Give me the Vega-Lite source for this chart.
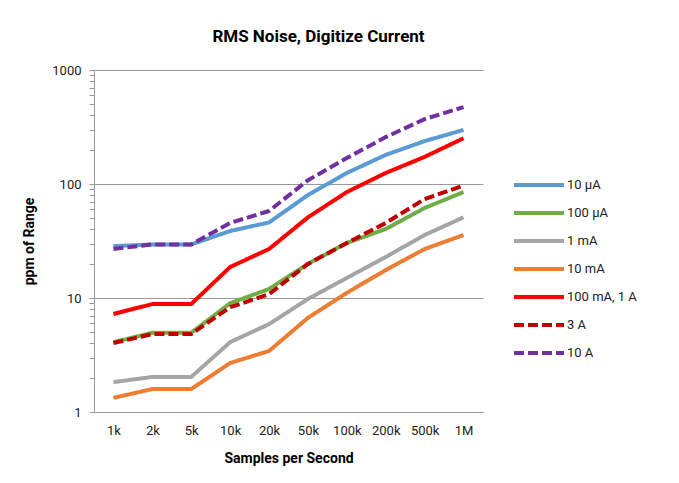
{
  "$schema": "https://vega.github.io/schema/vega-lite/v6.json",
  "autosize": {"type": "none"},
  "padding": {"left": 94, "top": 70, "right": 196, "bottom": 71},
  "width": 389,
  "height": 342,
  "background": "white",
  "config": {
    "font": "Roboto",
    "view": {"stroke": null}
  },
  "title": {
    "text": "RMS Noise, Digitize Current",
    "fontSize": 17,
    "fontWeight": "bold",
    "color": "#000000",
    "anchor": "middle",
    "dx": 30,
    "offset": 18
  },
  "data": {
    "values": [
      {"sps": "1k", "series": "10 µA", "v": 28.5},
      {"sps": "2k", "series": "10 µA", "v": 29.5},
      {"sps": "5k", "series": "10 µA", "v": 29.5},
      {"sps": "10k", "series": "10 µA", "v": 38.7},
      {"sps": "20k", "series": "10 µA", "v": 46},
      {"sps": "50k", "series": "10 µA", "v": 80},
      {"sps": "100k", "series": "10 µA", "v": 125},
      {"sps": "200k", "series": "10 µA", "v": 180},
      {"sps": "500k", "series": "10 µA", "v": 238},
      {"sps": "1M", "series": "10 µA", "v": 298},
      {"sps": "1k", "series": "100 µA", "v": 4.1},
      {"sps": "2k", "series": "100 µA", "v": 4.95},
      {"sps": "5k", "series": "100 µA", "v": 4.95},
      {"sps": "10k", "series": "100 µA", "v": 9.0},
      {"sps": "20k", "series": "100 µA", "v": 12},
      {"sps": "50k", "series": "100 µA", "v": 19.9},
      {"sps": "100k", "series": "100 µA", "v": 30.4},
      {"sps": "200k", "series": "100 µA", "v": 40.3},
      {"sps": "500k", "series": "100 µA", "v": 61.6},
      {"sps": "1M", "series": "100 µA", "v": 85},
      {"sps": "1k", "series": "1 mA", "v": 1.83},
      {"sps": "2k", "series": "1 mA", "v": 2.03},
      {"sps": "5k", "series": "1 mA", "v": 2.03},
      {"sps": "10k", "series": "1 mA", "v": 4.1},
      {"sps": "20k", "series": "1 mA", "v": 5.9},
      {"sps": "50k", "series": "1 mA", "v": 9.8},
      {"sps": "100k", "series": "1 mA", "v": 15},
      {"sps": "200k", "series": "1 mA", "v": 22.9},
      {"sps": "500k", "series": "1 mA", "v": 35.7},
      {"sps": "1M", "series": "1 mA", "v": 51},
      {"sps": "1k", "series": "10 mA", "v": 1.33},
      {"sps": "2k", "series": "10 mA", "v": 1.59},
      {"sps": "5k", "series": "10 mA", "v": 1.59},
      {"sps": "10k", "series": "10 mA", "v": 2.69},
      {"sps": "20k", "series": "10 mA", "v": 3.43},
      {"sps": "50k", "series": "10 mA", "v": 6.7},
      {"sps": "100k", "series": "10 mA", "v": 11.1},
      {"sps": "200k", "series": "10 mA", "v": 17.6},
      {"sps": "500k", "series": "10 mA", "v": 26.9},
      {"sps": "1M", "series": "10 mA", "v": 35.7},
      {"sps": "1k", "series": "100 mA, 1 A", "v": 7.24},
      {"sps": "2k", "series": "100 mA, 1 A", "v": 8.85},
      {"sps": "5k", "series": "100 mA, 1 A", "v": 8.85},
      {"sps": "10k", "series": "100 mA, 1 A", "v": 18.7},
      {"sps": "20k", "series": "100 mA, 1 A", "v": 26.9},
      {"sps": "50k", "series": "100 mA, 1 A", "v": 51},
      {"sps": "100k", "series": "100 mA, 1 A", "v": 85},
      {"sps": "200k", "series": "100 mA, 1 A", "v": 125},
      {"sps": "500k", "series": "100 mA, 1 A", "v": 173},
      {"sps": "1M", "series": "100 mA, 1 A", "v": 252},
      {"sps": "1k", "series": "3 A", "v": 4.03},
      {"sps": "2k", "series": "3 A", "v": 4.83},
      {"sps": "5k", "series": "3 A", "v": 4.83},
      {"sps": "10k", "series": "3 A", "v": 8.3},
      {"sps": "20k", "series": "3 A", "v": 10.8},
      {"sps": "50k", "series": "3 A", "v": 19.9},
      {"sps": "100k", "series": "3 A", "v": 30.4},
      {"sps": "200k", "series": "3 A", "v": 45.5},
      {"sps": "500k", "series": "3 A", "v": 73.8},
      {"sps": "1M", "series": "3 A", "v": 97},
      {"sps": "1k", "series": "10 A", "v": 26.9},
      {"sps": "2k", "series": "10 A", "v": 29.5},
      {"sps": "5k", "series": "10 A", "v": 29.5},
      {"sps": "10k", "series": "10 A", "v": 45.5},
      {"sps": "20k", "series": "10 A", "v": 58},
      {"sps": "50k", "series": "10 A", "v": 108},
      {"sps": "100k", "series": "10 A", "v": 169},
      {"sps": "200k", "series": "10 A", "v": 258},
      {"sps": "500k", "series": "10 A", "v": 371},
      {"sps": "1M", "series": "10 A", "v": 473}
    ]
  },
  "mark": {"type": "line", "strokeWidth": 4, "strokeCap": "butt", "strokeJoin": "round"},
  "encoding": {
    "x": {
      "field": "sps",
      "type": "ordinal",
      "sort": ["1k", "2k", "5k", "10k", "20k", "50k", "100k", "200k", "500k", "1M"],
      "scale": {"type": "point", "padding": 0.5},
      "axis": {
        "title": "Samples per Second",
        "titleFontSize": 14,
        "titleFontWeight": "bold",
        "titleColor": "#000000",
        "titlePadding": 14,
        "labelAngle": 0,
        "labelFontSize": 13,
        "labelColor": "#222222",
        "labelPadding": 12,
        "ticks": false,
        "domainColor": "#999999",
        "domainWidth": 1,
        "grid": false
      }
    },
    "y": {
      "field": "v",
      "type": "quantitative",
      "scale": {"type": "log", "domain": [1, 1000], "nice": false},
      "axis": {
        "title": "ppm of Range",
        "titleFontSize": 14,
        "titleFontWeight": "bold",
        "titleColor": "#000000",
        "titlePadding": 15,
        "values": [1, 2, 3, 4, 5, 6, 7, 8, 9, 10, 20, 30, 40, 50, 60, 70, 80, 90, 100, 200, 300, 400, 500, 600, 700, 800, 900, 1000],
        "labelExpr": "indexof([1, 10, 100, 1000], datum.value) >= 0 ? datum.value : ''",
        "labelFontSize": 13,
        "labelColor": "#222222",
        "labelPadding": 8,
        "tickSize": 5,
        "tickColor": "#999999",
        "domainColor": "#999999",
        "grid": true,
        "gridColor": "#999999",
        "gridOpacity": {"condition": {"test": "indexof([1, 10, 100, 1000], datum.value) >= 0", "value": 1}, "value": 0}
      }
    },
    "color": {
      "field": "series",
      "type": "nominal",
      "sort": ["10 µA", "100 µA", "1 mA", "10 mA", "100 mA, 1 A", "3 A", "10 A"],
      "scale": {
        "domain": ["10 µA", "100 µA", "1 mA", "10 mA", "100 mA, 1 A", "3 A", "10 A"],
        "range": ["#5B9BD5", "#70AD47", "#A5A5A5", "#ED7D31", "#FF0000", "#C00000", "#7030A0"]
      },
      "legend": {
        "title": null,
        "orient": "none",
        "legendX": 418,
        "legendY": 101,
        "symbolType": "stroke",
        "symbolSize": 2500,
        "symbolStrokeWidth": 4,
        "labelFontSize": 13,
        "labelColor": "#222222",
        "rowPadding": 0,
        "clipHeight": 28,
        "labelOffset": 1
      }
    },
    "strokeDash": {
      "field": "series",
      "type": "nominal",
      "sort": ["10 µA", "100 µA", "1 mA", "10 mA", "100 mA, 1 A", "3 A", "10 A"],
      "scale": {
        "domain": ["10 µA", "100 µA", "1 mA", "10 mA", "100 mA, 1 A", "3 A", "10 A"],
        "range": [[1, 0], [1, 0], [1, 0], [1, 0], [1, 0], [10, 4], [10, 4]]
      },
      "legend": null
    }
  }
}
